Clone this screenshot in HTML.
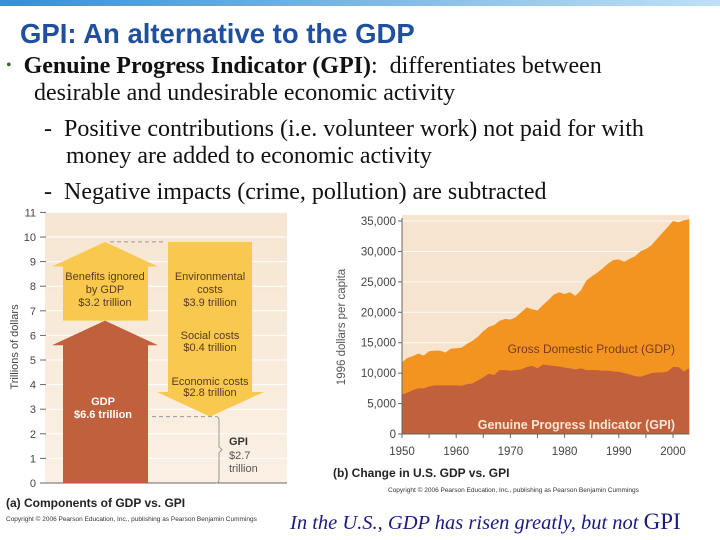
<!DOCTYPE html>
<html><head><meta charset="utf-8"><style>
body{margin:0;width:720px;height:540px;overflow:hidden;background:#fff;position:relative;font-family:"Liberation Sans",sans-serif}
.t{position:absolute;white-space:nowrap}
.tm{font-family:"Liberation Serif",serif;font-size:24px;color:#111}
</style></head><body>
<div style="position:absolute;left:0;top:0;width:720px;height:6px;background:linear-gradient(90deg,#3a8fd0,#bfe0f6)"></div>
<div class="t" style="left:20px;top:18px;font-size:27.5px;font-weight:bold;color:#1f4f9f">GPI: An alternative to the GDP</div>
<div class="t tm" style="left:6px;top:53px"><span style="color:#2a6e2a;font-size:16px;position:relative;top:-3px">•</span>&nbsp;&nbsp;<b>Genuine Progress Indicator (GPI)</b>:&nbsp; differentiates between</div>
<div class="t tm" style="left:34px;top:80px">desirable and undesirable economic activity</div>
<div class="t tm" style="left:44px;top:116px">-&nbsp; Positive contributions (i.e. volunteer work) not paid for with</div>
<div class="t tm" style="left:66px;top:143px">money are added to economic activity</div>
<div class="t tm" style="left:44px;top:179px">-&nbsp; Negative impacts (crime, pollution) are subtracted</div>

<svg width="720" height="540" style="position:absolute;left:0;top:0">
<defs>
<linearGradient id="bg" x1="0" y1="0" x2="0" y2="1"><stop offset="0" stop-color="#f6e6d2"/><stop offset="1" stop-color="#fbf0e4"/></linearGradient>
</defs>
<g id="left"></g>
<g id="right"></g>
</svg>
<div class="t" style="left:290px;top:509px;font-family:'Liberation Serif',serif;font-style:italic;font-size:20.5px;color:#1a1a80">In the U.S., GDP has risen greatly, but not <span style="font-style:normal;font-size:23px">GPI</span></div>
<script>
// Left chart values (trillions)
const leftTicks=[0,1,2,3,4,5,6,7,8,9,10,11];
const gdpVal=6.6, benefitsVal=3.2, envCost=3.9, socialCost=0.4, econCost=2.8, gpiVal=2.7;
// Right chart data
const years=[];for(let y=1950;y<=2003;y++)years.push(y);
const gdpSeries=[11800,12500,12800,13200,12900,13600,13700,13700,13400,14000,14100,14200,14800,15300,16000,16900,17600,17900,18600,18900,18800,19200,20000,20800,20500,20300,21200,22000,22900,23300,23000,23300,22700,23600,25200,25900,26500,27200,28000,28600,28700,28300,28800,29200,30000,30400,31000,32000,33000,34000,35000,34800,35100,35300];
const gpiSeries=[6500,6800,7200,7500,7500,7800,8000,8000,8000,8000,8000,7900,8200,8300,8800,9300,9900,9700,10500,10500,10400,10500,10600,11000,11200,10800,11400,11300,11200,11100,10900,10800,10600,10800,10500,10500,10500,10400,10400,10300,10200,10000,9800,9500,9400,9700,10000,10100,10100,10300,11000,11000,10300,10800];
const yTicksR=[0,5000,10000,15000,20000,25000,30000,35000];
const xTicksR=[1950,1960,1970,1980,1990,2000];
const NS='http://www.w3.org/2000/svg';
function mk(p,tag,attrs,txt){const e=document.createElementNS(NS,tag);for(const k in attrs)e.setAttribute(k,attrs[k]);if(txt!==undefined)e.textContent=txt;p.appendChild(e);return e;}
// LEFT
const L=document.getElementById('left');
const ly=v=>483-v*24.6;
let e;
e=mk(L,'rect',{x:45,y:ly(11),width:242,height:ly(0)-ly(11),fill:'url(#bg)'});

leftTicks.forEach(v=>{
 if(v>0){e=mk(L,'line',{x1:45,x2:287,y1:ly(v),y2:ly(v),stroke:'#fff','stroke-width':1});}
 e=mk(L,'line',{x1:40,x2:46,y1:ly(v),y2:ly(v),stroke:'#666'});
 e=mk(L,'text',{x:36,y:ly(v)+4,'text-anchor':'end','font-size':11,fill:'#444'},v);
});
e=mk(L,'line',{x1:45,x2:287,y1:ly(0),y2:ly(0),stroke:'#666'});
e=mk(L,'text',{x:18,y:347,transform:'rotate(-90 18 347)','text-anchor':'middle','font-size':11,fill:'#444'},'Trillions of dollars');
// GDP arrow
const gTop=ly(gdpVal), gBody=ly(gdpVal-1);
e=mk(L,'polygon',{points:`63,${ly(0)} 63,${gBody} 52,${gBody} 105,${gTop} 158,${gBody} 148,${gBody} 148,${ly(0)}`,fill:'#c0603c'});
// Benefits arrow
const bTop=ly(gdpVal+benefitsVal), bBody=ly(gdpVal+benefitsVal-1);
e=mk(L,'polygon',{points:`63,${gTop} 63,${bBody} 52,${bBody} 105,${bTop} 158,${bBody} 148,${bBody} 148,${gTop}`,fill:'#f8c94e'});
// Costs arrow
const cTop=ly(gdpVal+benefitsVal), cTip=ly(gpiVal), cBody=ly(gpiVal+1);
e=mk(L,'polygon',{points:`168,${cTop} 168,${cBody} 157,${cBody} 210,${cTip} 264,${cBody} 252,${cBody} 252,${cTop}`,fill:'#f8c94e'});
e=mk(L,'line',{x1:110,x2:166,y1:cTop,y2:cTop,stroke:'#999','stroke-dasharray':'4,3'});
e=mk(L,'line',{x1:152,x2:216,y1:cTip,y2:cTip,stroke:'#999','stroke-dasharray':'4,3'});
e=mk(L,'path',{d:`M216,${cTip} q3,0 3,4 L219,${(cTip+ly(0))/2-3} l3,3 l-3,3 L219,${ly(0)-4} q0,4 -3,4`,fill:'none',stroke:'#999'});
function lbl(x,y,s,name,opt){const t=mk(L,'text',Object.assign({x:x,y:y,'text-anchor':'middle','font-size':11,fill:'#5a3a20'},opt||{}),s);}
lbl(105,280,'Benefits ignored','benefits-label');lbl(105,293,'by GDP','benefits-label');lbl(105,306,'$'+benefitsVal.toFixed(1)+' trillion','benefits-value');
lbl(210,280,'Environmental','env-label');lbl(210,293,'costs','env-label');lbl(210,306,'$'+envCost.toFixed(1)+' trillion','env-value');
lbl(210,339,'Social costs','social-label');lbl(210,351,'$'+socialCost.toFixed(1)+' trillion','social-value');
lbl(210,385,'Economic costs','econ-label');lbl(210,396,'$'+econCost.toFixed(1)+' trillion','econ-value');
lbl(103,405,'GDP','gdp-label',{fill:'#fff','font-weight':'bold'});lbl(103,418,'$'+gdpVal.toFixed(1)+' trillion','gdp-value',{fill:'#fff','font-weight':'bold'});
lbl(229,445,'GPI','gpi-label',{'text-anchor':'start','font-weight':'bold',fill:'#333'});lbl(229,459,'$'+gpiVal.toFixed(1),'gpi-value',{'text-anchor':'start',fill:'#555'});lbl(229,472,'trillion','gpi-value',{'text-anchor':'start',fill:'#555'});
lbl(6,507,'(a) Components of GDP vs. GPI','left-caption',{'text-anchor':'start','font-weight':'bold',fill:'#222','font-size':12});
lbl(6,521,'Copyright © 2006 Pearson Education, Inc., publishing as Pearson Benjamin Cummings','left-copyright',{'text-anchor':'start',fill:'#333','font-size':6.5});
// RIGHT
const R=document.getElementById('right');
const rx=y=>402+(y-1950)*5.42, ry=v=>434-v*213/35000;
e=mk(R,'rect',{x:rx(1950),y:ry(36000),width:rx(2003)-rx(1950),height:ry(0)-ry(36000),fill:'#f7e4cf'});
yTicksR.forEach(v=>{if(v>0){e=mk(R,'line',{x1:rx(1950),x2:rx(2003),y1:ry(v),y2:ry(v),stroke:'#fff','stroke-width':0.8});}});
let d='M'+rx(years[0])+','+ry(0);years.forEach((y,i)=>d+=' L'+rx(y)+','+ry(gdpSeries[i]));d+=' L'+rx(years[years.length-1])+','+ry(0)+'Z';
e=mk(R,'path',{d:d,fill:'#f39420'});
d='M'+rx(years[0])+','+ry(0);years.forEach((y,i)=>d+=' L'+rx(y)+','+ry(gpiSeries[i]));d+=' L'+rx(years[years.length-1])+','+ry(0)+'Z';
e=mk(R,'path',{d:d,fill:'#c0603c'});
e=mk(R,'line',{x1:rx(1950),x2:rx(1950),y1:ry(35500),y2:ry(0),stroke:'#666'});
e=mk(R,'line',{x1:rx(1950),x2:rx(2003),y1:ry(0),y2:ry(0),stroke:'#666'});
yTicksR.forEach(v=>{
 e=mk(R,'line',{x1:rx(1950)-4,x2:rx(1950),y1:ry(v),y2:ry(v),stroke:'#666'});
 e=mk(R,'text',{x:rx(1950)-6,y:ry(v)+4,'text-anchor':'end','font-size':11.5,fill:'#444'},v.toLocaleString('en-US'));
});
for(let y=1950;y<=2000;y+=5){e=mk(R,'line',{x1:rx(y),x2:rx(y),y1:ry(0),y2:ry(0)+4,stroke:'#666'});}
xTicksR.forEach(y=>{e=mk(R,'text',{x:rx(y),y:ry(0)+21,'text-anchor':'middle','font-size':11.5,fill:'#444'},y);});
e=mk(R,'text',{x:345,y:327,transform:'rotate(-90 345 327)','text-anchor':'middle','font-size':11.5,fill:'#555'},'1996 dollars per capita');
e=mk(R,'text',{x:675,y:353,'text-anchor':'end','font-size':12,fill:'#7a3a1a'},'Gross Domestic Product (GDP)');
e=mk(R,'text',{x:675,y:429,'text-anchor':'end','font-size':12.5,'font-weight':'bold',fill:'#fbe7d4'},'Genuine Progress Indicator (GPI)');
e=mk(R,'text',{x:333,y:477,'font-size':12,'font-weight':'bold',fill:'#222'},'(b) Change in U.S. GDP vs. GPI');
e=mk(R,'text',{x:388,y:492,'font-size':6.5,fill:'#333'},'Copyright © 2006 Pearson Education, Inc., publishing as Pearson Benjamin Cummings');
</script>
</body></html>
